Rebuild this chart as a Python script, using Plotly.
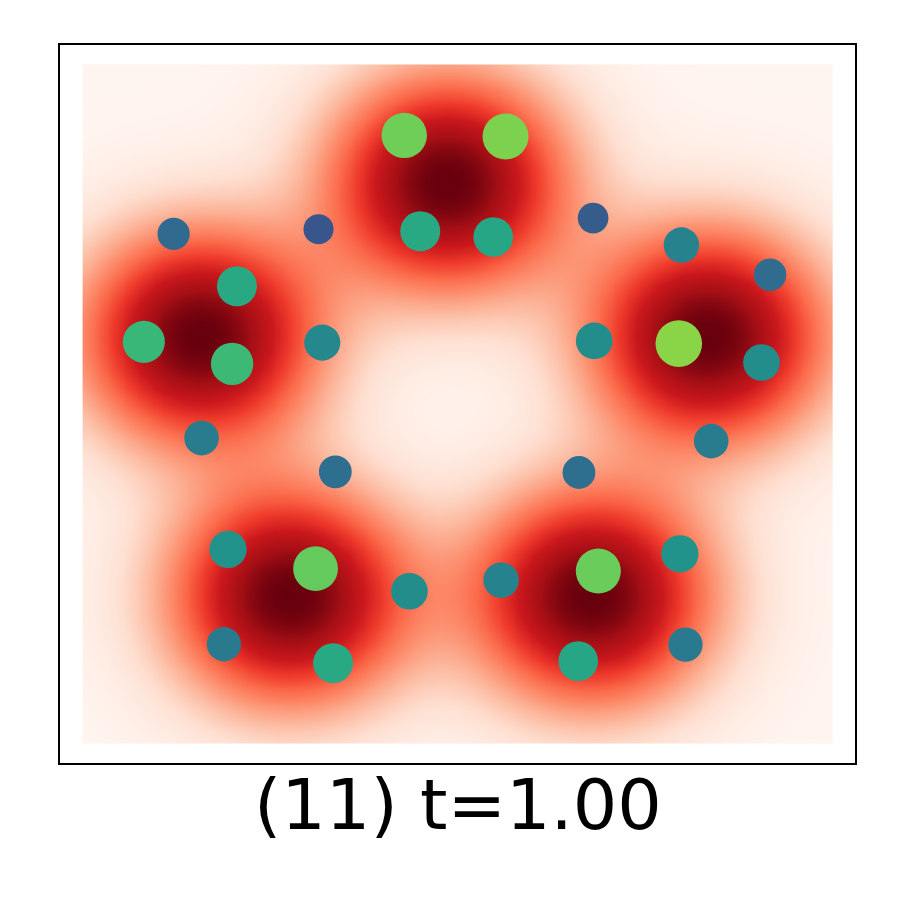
import numpy as np
import plotly.graph_objects as go
from plotly.colors import sequential

# mode centres of the density (data units) and their shape
mode_x = [-0.028, -0.691, 0.670, -0.450, 0.360]
mode_y = [0.656, 0.200, 0.200, -0.570, -0.570]
mode_scale = 0.33
mode_power = 2.25

# particles at t=1.00
px = [-0.143, 0.129, -0.100, 0.096, -0.373, 0.364, -0.762, -0.592, -0.842, -0.605,
      -0.363, -0.687, 0.601, 0.839, 0.367, 0.594, 0.816, 0.681, -0.328, 0.326,
      -0.616, -0.381, -0.129, 0.117, 0.378, 0.597, -0.627, -0.334, 0.324, 0.612]
py = [0.796, 0.793, 0.512, 0.495, 0.518, 0.551, 0.504, 0.349, 0.184, 0.119,
      0.182, -0.101, 0.471, 0.383, 0.187, 0.179, 0.123, -0.110, -0.201, -0.203,
      -0.431, -0.488, -0.555, -0.522, -0.495, -0.444, -0.712, -0.768, -0.762, -0.713]
weight = [0.78, 0.80, 0.60, 0.59, 0.27, 0.29, 0.34, 0.60, 0.67, 0.68,
          0.47, 0.42, 0.45, 0.35, 0.49, 0.82, 0.49, 0.42, 0.36, 0.36,
          0.51, 0.76, 0.49, 0.45, 0.77, 0.51, 0.41, 0.60, 0.59, 0.41]

title = "(11) t=1.00"

# density grid
grid = np.linspace(-1, 1, 161)
gx, gy = np.meshgrid(grid, grid)
dens = np.zeros_like(gx)
for mx, my in zip(mode_x, mode_y):
    r = np.sqrt((gx - mx) ** 2 + (gy - my) ** 2)
    dens += np.exp(-(r / mode_scale) ** mode_power)

reds = sequential.Reds
reds_scale = [[i / (len(reds) - 1), c] for i, c in enumerate(reds)]

fig = go.Figure()
fig.add_trace(go.Heatmap(x=grid, y=grid, z=dens, colorscale=reds_scale,
                         zmin=0, zmax=dens.max(), zsmooth="best",
                         showscale=False, hoverinfo="skip"))
fig.add_trace(go.Scatter(
    x=px, y=py, mode="markers",
    marker=dict(size=[22 + 30 * w for w in weight], color=weight,
                colorscale="Viridis", cmin=0, cmax=1,
                line=dict(width=0), opacity=1),
    showlegend=False))

fig.update_xaxes(range=[-1.067, 1.067], showticklabels=False, ticks="",
                 showgrid=False, zeroline=False, showline=True, mirror=True,
                 linecolor="black", linewidth=2)
fig.update_yaxes(range=[-1.064, 1.064], showticklabels=False, ticks="",
                 showgrid=False, zeroline=False, showline=True, mirror=True,
                 linecolor="black", linewidth=2)
fig.update_layout(
    width=900, height=900, autosize=False,
    margin=dict(l=52, r=53, t=37, b=145),
    paper_bgcolor="white", plot_bgcolor="white",
    annotations=[dict(text=title, xref="paper", yref="paper", x=0.5, y=-0.0586,
                      xanchor="center", yanchor="middle", showarrow=False,
                      font=dict(family="DejaVu Sans", size=70, color="black"))],
)
fig.write_html("out.html")
